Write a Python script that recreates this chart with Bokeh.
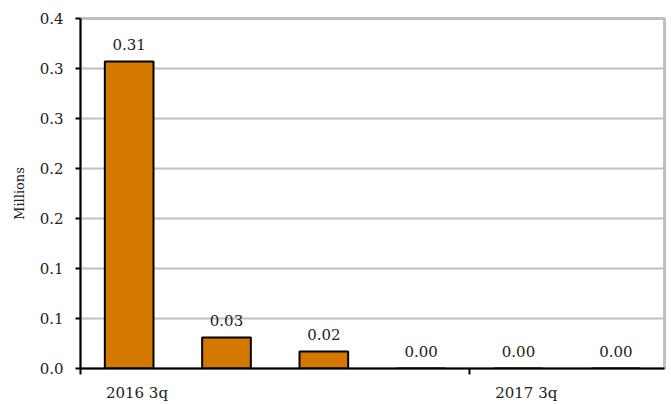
from bokeh.plotting import figure
from bokeh.models import FixedTicker, ColumnDataSource
from bokeh.embed import file_html
from bokeh.resources import INLINE

quarters = ["2016 3q", "2016 4q", "2017 1q", "2017 2q", "2017 3q", "2017 4q"]
values = [0.307, 0.031, 0.017, 0.0, 0.0, 0.0]
value_labels = ["0.31", "0.03", "0.02", "0.00", "0.00", "0.00"]
y_ticks = [0.0, 0.05, 0.1, 0.15, 0.2, 0.25, 0.3, 0.35]
y_tick_labels = ["0.0", "0.1", "0.1", "0.2", "0.2", "0.3", "0.3", "0.4"]
shown_quarters = ["2016 3q", "2017 3q"]

FONT = "DejaVu Serif"
x = list(range(len(quarters)))
src = ColumnDataSource(dict(x=x, top=values, lab=value_labels))

p = figure(width=671, height=404, output_backend="svg", toolbar_location=None,
           x_range=(-0.5, len(quarters) - 0.5), y_range=(0, 0.35),
           min_border_left=80, min_border_right=7, min_border_top=18, min_border_bottom=33)

p.vbar(x="x", top="top", width=0.5, source=src, fill_color="#D47800",
       line_color="black", line_width=2)
p.text(x="x", y="top", text="lab", source=src, text_align="center",
       text_baseline="bottom", y_offset=-12, text_font={"value": FONT},
       text_font_size="15px", text_color="#222222")

# y axis
p.yaxis.ticker = FixedTicker(ticks=y_ticks)
p.yaxis.major_label_overrides = {t: l for t, l in zip(y_ticks, y_tick_labels)}
p.yaxis.major_label_text_font = FONT
p.yaxis.major_label_text_font_size = "15px"
p.yaxis.major_label_text_color = "#222222"
p.yaxis.major_label_standoff = 12
p.yaxis.axis_line_width = 2
p.yaxis.axis_line_color = "black"
p.yaxis.major_tick_line_width = 2
p.yaxis.major_tick_out = 5
p.yaxis.major_tick_in = 0
p.yaxis.minor_tick_line_color = None
p.yaxis.axis_label = "Millions"
p.yaxis.axis_label_text_font = FONT
p.yaxis.axis_label_text_font_size = "13px"
p.yaxis.axis_label_text_font_style = "normal"
p.yaxis.axis_label_text_color = "#222222"
p.yaxis.axis_label_standoff = 10

# x axis
label_pos = [quarters.index(q) + 0.08 for q in shown_quarters]
p.xaxis.ticker = FixedTicker(ticks=label_pos, minor_ticks=[-0.5, 3.5])
p.xaxis.major_label_overrides = {pos: q for pos, q in zip(label_pos, shown_quarters)}
p.xaxis.major_label_text_font = FONT
p.xaxis.major_label_text_font_size = "15px"
p.xaxis.major_label_text_color = "#222222"
p.xaxis.major_tick_line_color = None
p.xaxis.major_tick_out = 0
p.xaxis.major_tick_in = 0
p.xaxis.major_label_standoff = 9
p.xaxis.minor_tick_line_color = "black"
p.xaxis.minor_tick_line_width = 2
p.xaxis.minor_tick_out = 6
p.xaxis.minor_tick_in = 0
p.xaxis.axis_line_width = 2
p.xaxis.axis_line_color = "black"

p.xgrid.grid_line_color = None
p.ygrid.ticker = FixedTicker(ticks=y_ticks)
p.ygrid.grid_line_color = "#c0c0c0"
p.ygrid.grid_line_width = 2

p.outline_line_color = "#c0c0c0"
p.outline_line_width = 3
p.background_fill_color = "white"
p.border_fill_color = "white"

open("out.html", "w").write(file_html(p, INLINE))
